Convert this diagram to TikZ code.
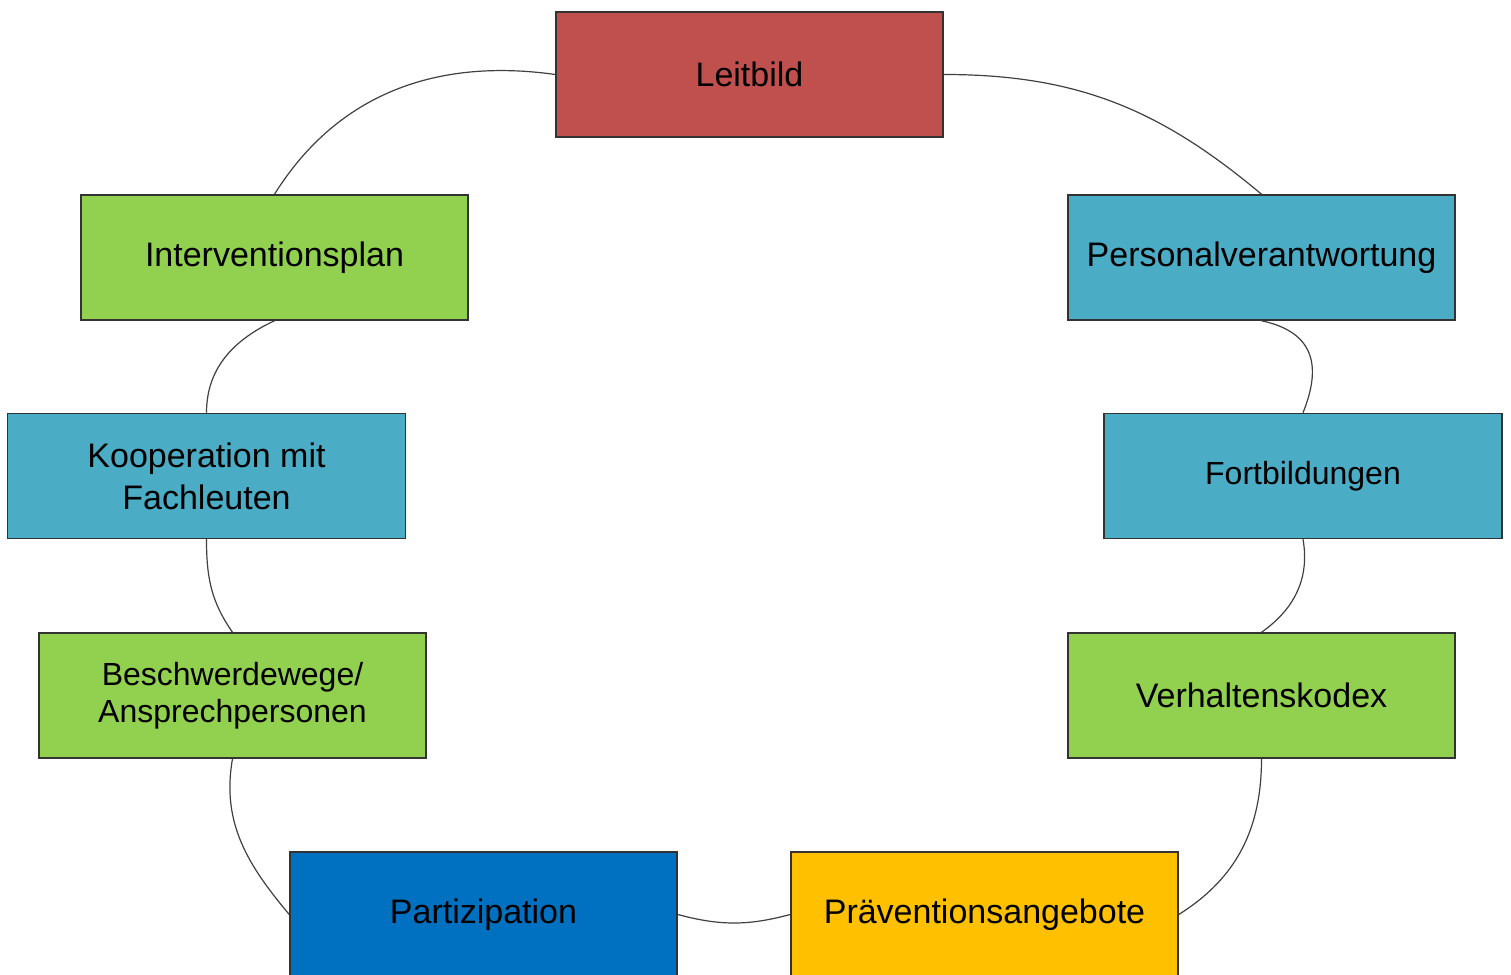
\documentclass[tikz,border=0pt]{standalone}
\usepackage{fontspec}
\setmainfont{Liberation Sans}
\usetikzlibrary{positioning}
\definecolor{boxred}{HTML}{C0504D}
\definecolor{boxcyan}{HTML}{4BACC6}
\definecolor{boxgreen}{HTML}{92D050}
\definecolor{boxyellow}{HTML}{FFC000}
\definecolor{boxblue}{HTML}{0070C0}
\tikzset{
    box/.style={rectangle, draw=black!80, line width=0.75pt, minimum width=193.5pt, minimum height=62.5pt, align=center, inner sep=2pt, font=\fontsize{17}{21}\selectfont},
    wbox/.style={box, minimum width=199pt},
    redbox/.style={box, fill=boxred},
    cyanbox/.style={box, fill=boxcyan},
    greenbox/.style={box, fill=boxgreen},
    yellowbox/.style={box, fill=boxyellow},
    bluebox/.style={box, fill=boxblue},
    link/.style={draw=black!75, line width=0.6pt},
}

\begin{document}
\begin{tikzpicture}[x=0.5pt, y=0.5pt]
    \useasboundingbox (0,0) rectangle (1511,975);

    % Top
    \node[redbox] (lb) at (749.5, 900.5) {Leitbild};

    % Right side
    \node[cyanbox] (pv) at (1261.5, 717.5) {Personalverantwortung};
    \node[cyanbox, wbox, font=\fontsize{16}{19}\selectfont] (fb) at (1303, 499) {Fortbildungen};
    \node[greenbox] (vk) at (1261.5, 279.5) {Verhaltenskodex};

    % Bottom
    \node[yellowbox] (pa) at (984.5, 60.5) {Präventionsangebote};
    \node[bluebox] (pz) at (483.5, 60.5) {Partizipation};

    % Left side
    \node[greenbox, font=\fontsize{16}{18.5}\selectfont] (bw) at (232.5, 279.5) {Beschwerdewege/\\Ansprechpersonen};
    \node[cyanbox, wbox] (ko) at (206.5, 499) {Kooperation mit\\Fachleuten};
    \node[greenbox] (ip) at (274.5, 717.5) {Interventionsplan};

    % Ring
    \draw[link] (lb.west) to[out=172, in=58] (ip.north);
    \draw[link] (lb.east) to[out=0, in=140] (pv.north);
    \draw[link] (pv.south) to[out=-12, in=68, out distance=28pt, in distance=24pt] (fb.north);
    \draw[link] (fb.south) to[out=-80, in=35] (vk.north);
    \draw[link] (vk.south) to[out=-90, in=32] (pa.east);
    \draw[link] (pa.west) to[out=195, in=-15] (pz.east);
    \draw[link] (pz.west) to[out=130, in=-100] (bw.south);
    \draw[link] (bw.north) to[out=125, in=-90] (ko.south);
    \draw[link] (ko.north) to[out=90, in=205] (ip.south);
\end{tikzpicture}
\end{document}
